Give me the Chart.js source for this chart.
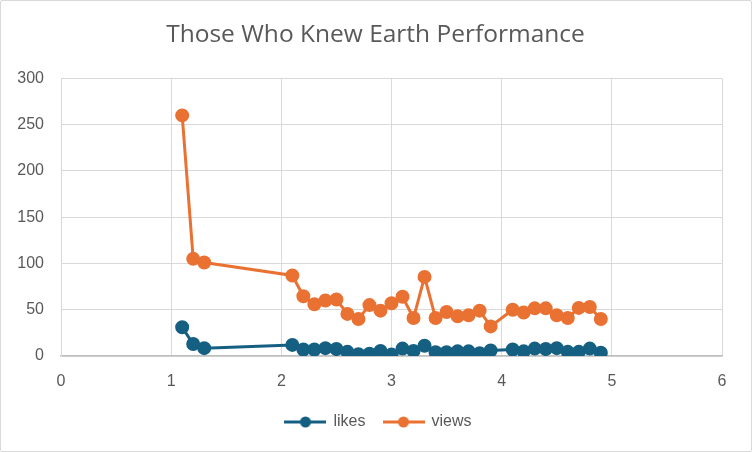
<!DOCTYPE html>
<html>
<head>
<meta charset="utf-8">
<script src="https://cdn.jsdelivr.net/npm/chart.js@4.4.1/dist/chart.umd.min.js"></script>
<style>
    body { margin: 0; background: white; }
    #caixa { position: absolute; left: 0; top: 0; width: 750px; height: 450px; border: 1px solid #d9d9d9; border-radius: 2px; }
</style>
</head>
<body>
<div id="caixa"><canvas id="myChart" width="750" height="450"></canvas></div>
<script>

const episodios = [1.1, 1.2, 1.3,
    2.1, 2.2, 2.3, 2.4, 2.5, 2.6, 2.7, 2.8, 2.9,
    3.0, 3.1, 3.2, 3.3, 3.4, 3.5, 3.6, 3.7, 3.8, 3.9,
    4.1, 4.2, 4.3, 4.4, 4.5, 4.6, 4.7, 4.8, 4.9];

const likes = [31, 13, 8.5,
    12, 7, 7, 8.5, 7.5, 4.5, 2, 2.5, 5.5,
    1.5, 8, 5.5, 11, 4, 4, 5, 5, 3, 6,
    7, 5, 8, 7.5, 8.5, 4.5, 4.5, 8, 3.5];

const views = [260, 105, 101,
    87, 64.5, 56, 60, 61, 45.5, 40, 55, 49,
    57, 64, 41, 85.5, 41, 47.5, 43, 44, 49, 32,
    50, 47, 51.5, 51.5, 44, 41, 52, 53, 40];

const xTicks = [0, 1, 2, 3, 4, 5, 6];
const yTicks = [0, 50, 100, 150, 200, 250, 300];

const azul = '#156082';
const laranja = '#E97132';
const cinza = '#595959';

function pontos(valores) {
    return episodios.map((ep, i) => ({ x: ep, y: valores[i] }));
}

// desenha o simbolo da legenda (linha + bolinha)
function simbolo(cor) {
    const c = document.createElement('canvas');
    c.width = 42;
    c.height = 14;
    const ctx = c.getContext('2d');
    ctx.strokeStyle = cor;
    ctx.lineWidth = 3;
    ctx.beginPath();
    ctx.moveTo(0, 7);
    ctx.lineTo(42, 7);
    ctx.stroke();
    ctx.fillStyle = cor;
    ctx.beginPath();
    ctx.arc(21, 7, 5.5, 0, Math.PI * 2);
    ctx.fill();
    return c;
}

// centraliza titulo e legenda no quadro todo (como no excel)
const ajustaCentro = {
    id: 'ajustaCentro',
    afterLayout(chart) {
        chart.legend.left += 11;
        chart.legend.right += 11;
        chart.titleBlock.left += 8;
        chart.titleBlock.right += 8;
    }
};

const data = {
    datasets: [{
        label: 'likes',
        data: pontos(likes),
        borderColor: azul,
        backgroundColor: azul,
        showLine: true,
        borderWidth: 3,
        pointRadius: 5.5,
        pointHoverRadius: 5.5,
        legendSimbolo: simbolo(azul)
    }, {
        label: 'views',
        data: pontos(views),
        borderColor: laranja,
        backgroundColor: laranja,
        showLine: true,
        borderWidth: 3,
        pointRadius: 5.5,
        pointHoverRadius: 5.5,
        legendSimbolo: simbolo(laranja)
    }]
};

const fonte = "'Liberation Sans', Arial, sans-serif";

const config = {
    type: 'scatter',
    data: data,
    plugins: [ajustaCentro],
    options: {
        responsive: false,
        animation: false,
        layout: { padding: { left: 12, right: 29, top: 0, bottom: 11 } },
        plugins: {
            title: {
                display: true,
                text: 'Those Who Knew Earth Performance',
                color: cinza,
                font: { family: "'Open Sans', sans-serif", size: 24.5, weight: 'normal' },
                padding: { top: 19, bottom: 29 }
            },
            legend: {
                position: 'bottom',
                labels: {
                    color: cinza,
                    font: { family: fonte, size: 16 },
                    usePointStyle: true,
                    pointStyleWidth: 40,
                    boxHeight: 14,
                    padding: 18,
                    generateLabels: (chart) => chart.data.datasets.map((ds, i) => ({
                        text: ds.label,
                        fontColor: cinza,
                        pointStyle: ds.legendSimbolo,
                        datasetIndex: i,
                        lineWidth: 0,
                        hidden: false
                    }))
                }
            },
            tooltip: { enabled: false }
        },
        scales: {
            x: {
                type: 'linear',
                min: 0,
                max: 6,
                afterBuildTicks: (scale) => { scale.ticks = xTicks.map(v => ({ value: v })); },
                ticks: { color: cinza, font: { family: fonte, size: 16 }, padding: 16 },
                grid: { color: '#d9d9d9', drawTicks: false },
                border: { color: '#bfbfbf', width: 1.5 },
                afterFit: (scale) => { scale.height = 40; }
            },
            y: {
                type: 'linear',
                min: 0,
                max: 300,
                afterBuildTicks: (scale) => { scale.ticks = yTicks.map(v => ({ value: v })); },
                ticks: { color: cinza, font: { family: fonte, size: 16 }, padding: 17 },
                grid: { color: '#d9d9d9', drawTicks: false },
                border: { color: '#d9d9d9' },
                afterFit: (scale) => { scale.width = 48; }
            }
        }
    }
};

const myChart = new Chart(
    document.getElementById('myChart'),
    config
);
</script>
</body>
</html>
